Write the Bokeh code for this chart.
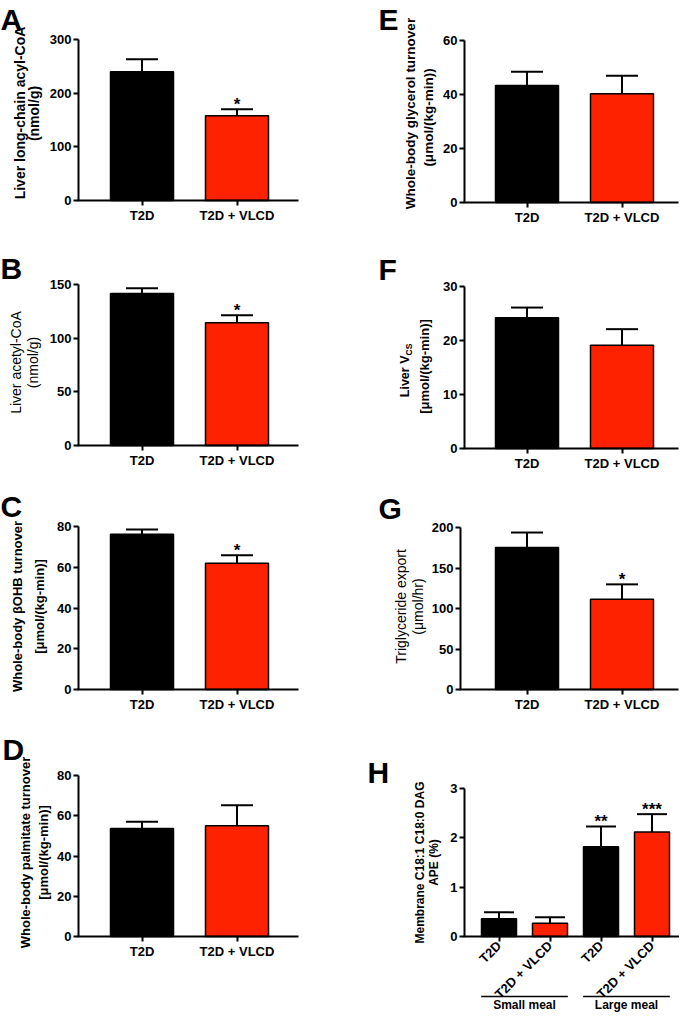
import math
from bokeh.plotting import figure
from bokeh.models import Range1d, FixedTicker, ColumnDataSource
from bokeh.layouts import row, column
from bokeh.core.properties import value
from bokeh.embed import file_html
from bokeh.resources import INLINE

# ---------------- data ----------------
groups = ["T2D", "T2D + VLCD"]
bar_colors = ["#000000", "#FF2200"]

a_mean = [240.0, 158.0]
a_sem = [23.0, 12.0]
a_stars = ["", "*"]
a_ticks = [0, 100, 200, 300]

b_mean = [141.5, 114.3]
b_sem = [5.0, 7.1]
b_stars = ["", "*"]
b_ticks = [0, 50, 100, 150]

c_mean = [76.2, 62.0]
c_sem = [2.3, 3.9]
c_stars = ["", "*"]
c_ticks = [0, 20, 40, 60, 80]

d_mean = [53.7, 55.0]
d_sem = [3.3, 10.2]
d_stars = ["", ""]
d_ticks = [0, 20, 40, 60, 80]

e_mean = [43.3, 40.3]
e_sem = [5.1, 6.6]
e_stars = ["", ""]
e_ticks = [0, 20, 40, 60]

f_mean = [24.2, 19.1]
f_sem = [1.9, 3.0]
f_stars = ["", ""]
f_ticks = [0, 10, 20, 30]

g_mean = [175.4, 111.3]
g_sem = [18.4, 18.5]
g_stars = ["", "*"]
g_ticks = [0, 50, 100, 150, 200]

h_groups = ["T2D", "T2D + VLCD", "T2D", "T2D + VLCD"]
h_colors = ["#000000", "#FF2200", "#000000", "#FF2200"]
h_meals = ["Small meal", "Large meal"]
h_meal_centers = [1.5, 3.5]
h_mean = [0.36, 0.27, 1.82, 2.12]
h_sem = [0.13, 0.12, 0.41, 0.36]
h_stars = ["", "", "**", "***"]
h_ticks = [0, 1, 2, 3]

FONT = "Liberation Sans"


class Panel:
    """One chart; the whole canvas is the frame, axes are pinned with fixed_location."""

    def __init__(self, fx, fy, fw, fh, fl, ft, fr, fb, x_first, unit, ymax, ticks,
                 labels, means, sems, colors, stars, bar_px, cap_px, rotate=False):
        self.fb, self.ft, self.ymax = fb, ft, ymax
        self.x_first, self.unit = x_first, unit
        p = figure(width=fw, height=fh, output_backend="svg", toolbar_location=None,
                   min_border_left=0, min_border_right=0, min_border_top=0, min_border_bottom=0,
                   x_range=Range1d(self.xd(fx), self.xd(fx + fw)),
                   y_range=Range1d(self.yd(fy + fh), self.yd(fy)))
        p.outline_line_color = None
        p.xgrid.grid_line_color = None
        p.ygrid.grid_line_color = None
        p.background_fill_color = "white"
        p.border_fill_color = "white"
        xs = list(range(1, len(means) + 1))
        tops = [m + s for m, s in zip(means, sems)]
        src = ColumnDataSource(dict(x=xs, mean=means, top=tops, color=colors, star=stars))
        p.vbar(x="x", top="mean", bottom=0, width=bar_px / unit, fill_color="color",
               line_color="black", line_width=1.5, source=src)
        p.segment(x0="x", y0="mean", x1="x", y1="top", line_color="black", line_width=2, source=src)
        p.scatter(x="x", y="top", marker="dash", size=cap_px, line_color="black", line_width=2, source=src)
        p.text(x="x", y="top", text="star", text_align="center", text_baseline="middle",
               y_offset=-5, text_font=value(FONT), text_font_size="17px", text_font_style="bold",
               text_color="black", source=src)
        for ax in (p.xaxis[0], p.yaxis[0]):
            ax.axis_line_width = 2
            ax.axis_line_color = "black"
            ax.major_tick_line_width = 2
            ax.major_tick_line_color = "black"
            ax.major_tick_out = 5
            ax.major_tick_in = 0
            ax.minor_tick_line_color = None
            ax.major_label_text_font = FONT
            ax.major_label_text_font_style = "bold"
            ax.major_label_text_font_size = "13px"
            ax.major_label_text_color = "black"
        ya = p.yaxis[0]
        ya.ticker = FixedTicker(ticks=ticks)
        ya.major_label_standoff = 2
        ya.fixed_location = self.xd(fl)
        ya.bounds = (0, ymax)
        xa = p.xaxis[0]
        xa.ticker = FixedTicker(ticks=xs)
        xa.major_label_overrides = {x: lab for x, lab in zip(xs, labels)}
        xa.major_label_standoff = 2
        xa.fixed_location = 0
        xa.bounds = (self.xd(fl - 1), self.xd(fr))
        if rotate:
            xa.major_label_orientation = math.pi / 4
            xa.major_label_standoff = 2
        self.p = p

    def xd(self, px):
        return 1 + (px - self.x_first) / self.unit

    def yd(self, py):
        return (self.fb - py) / (self.fb - self.ft) * self.ymax

    def text(self, px, py, s, size, style="bold", angle=0.0, align="center"):
        self.p.text(x=[self.xd(px)], y=[self.yd(py)], text=[s], angle=angle,
                    text_align=align, text_baseline="middle", text_font=value(FONT),
                    text_font_size=f"{size}px", text_font_style=style, text_color="black")

    def ytitle(self, px, py, s, size, style="bold", align="center"):
        self.text(px, py, s, size, style, angle=math.pi / 2, align=align)

    def letter(self, px, py, s):
        self.text(px, py, s, 30, "bold", align="left")


# ---------------- left column ----------------
A = Panel(0, 0, 340, 250, 78, 39, 298, 200, 141.5, 95, 300, a_ticks, groups,
          a_mean, a_sem, bar_colors, a_stars, 63, 32)
A.letter(0, 18.5, "A")
A.ytitle(19, 112.5, "Liver long-chain acyl-CoA", 14)
A.ytitle(33, 113, "(nmol/g)", 14)

B = Panel(0, 250, 340, 240, 78, 284, 298, 445, 141.5, 95, 150, b_ticks, groups,
          b_mean, b_sem, bar_colors, b_stars, 63, 32)
B.letter(0, 267.5, "B")
B.ytitle(15, 362, "Liver acetyl-CoA", 14, "normal")
B.ytitle(32.5, 362, "(nmol/g)", 14, "normal")

C = Panel(0, 490, 340, 240, 78, 526, 298, 689, 141.5, 95, 80, c_ticks, groups,
          c_mean, c_sem, bar_colors, c_stars, 63, 32)
C.letter(0, 506, "C")
C.ytitle(17, 606, "Whole-body \u03b2OHB turnover", 13)
C.ytitle(39, 606, "[\u03bcmol/(kg-min)]", 13)

D = Panel(0, 730, 340, 282, 78, 775, 298, 936, 141.5, 95, 80, d_ticks, groups,
          d_mean, d_sem, bar_colors, d_stars, 63, 32)
D.letter(2, 749, "D")
D.ytitle(25, 852, "Whole-body palmitate turnover", 13)
D.ytitle(43, 852, "[\u03bcmol/(kg-min)]", 13)

# ---------------- right column ----------------
E = Panel(340, 0, 339, 250, 464, 40, 678, 202, 526.5, 95, 60, e_ticks, groups,
          e_mean, e_sem, bar_colors, e_stars, 63, 32)
E.letter(378, 18.5, "E")
E.ytitle(410, 113, "Whole-body glycerol turnover", 13.5)
E.ytitle(427.5, 117, "(\u03bcmol/(kg-min))", 13.5)

F = Panel(340, 250, 339, 240, 464, 286, 678, 448, 526.5, 95, 30, f_ticks, groups,
          f_mean, f_sem, bar_colors, f_stars, 63, 32)
F.letter(378, 268.5, "F")
F.ytitle(404, 355, "Liver V", 12.5, align="right")
F.ytitle(408, 355, "CS", 8.5, align="left")
F.ytitle(424, 366, "[\u03bcmol/(kg-min)]", 13)

G = Panel(340, 490, 339, 240, 460, 527, 678, 689, 526.5, 95, 200, g_ticks, groups,
          g_mean, g_sem, bar_colors, g_stars, 63, 32)
G.letter(378, 507.5, "G")
G.ytitle(400, 606, "Triglyceride export", 14, "normal")
G.ytitle(417, 606, "(\u03bcmol/hr)", 14, "normal")

H = Panel(340, 730, 339, 282, 464, 788, 679, 936, 498.5, 51, 3, h_ticks, h_groups,
          h_mean, h_sem, h_colors, h_stars, 35, 30, rotate=True)
H.letter(367, 771.5, "H")
H.ytitle(419, 862, "Membrane C18:1 C18:0 DAG", 12)
H.ytitle(433, 862, "APE (%)", 12)
half = 0.85
H.p.segment(x0=[c - half for c in h_meal_centers], y0=[H.yd(996)] * 2,
            x1=[c + half for c in h_meal_centers], y1=[H.yd(996)] * 2,
            line_color="black", line_width=1.5)
H.p.text(x=h_meal_centers, y=[H.yd(1004)] * 2, text=h_meals, text_align="center",
         text_baseline="middle", text_font=value(FONT), text_font_size="12px",
         text_font_style="bold", text_color="black")

layout = column(row(A.p, E.p), row(B.p, F.p), row(C.p, G.p), row(D.p, H.p))

open("out.html", "w").write(file_html(layout, INLINE))
